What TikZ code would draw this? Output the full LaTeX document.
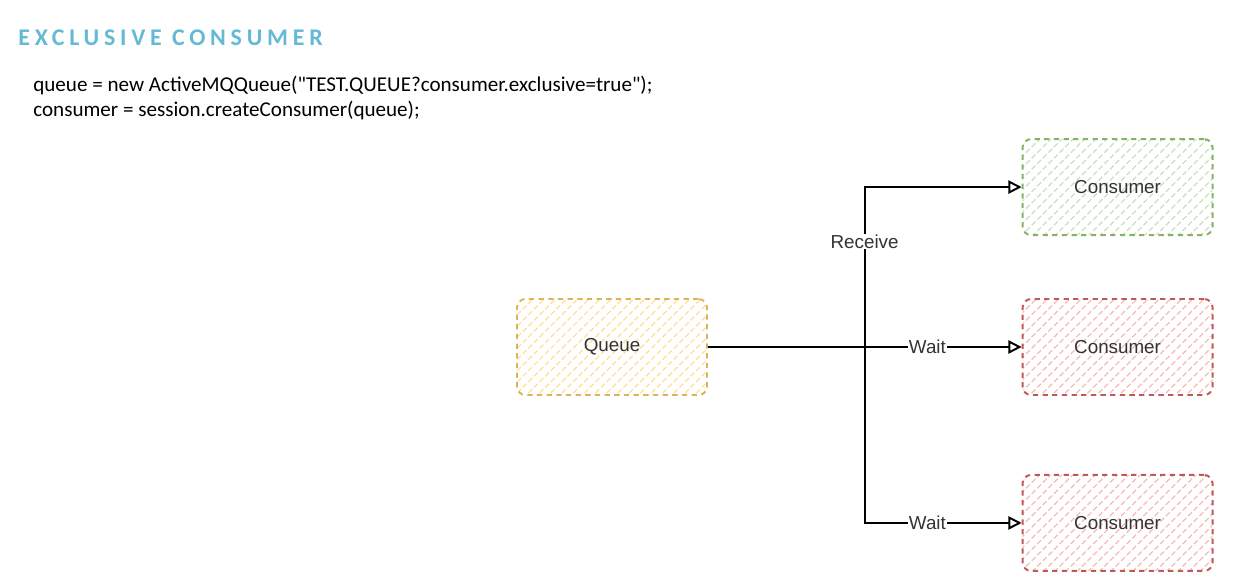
\documentclass[tikz,border=0pt]{standalone}
\usepackage{fontspec}
\setmainfont{Carlito}
\newfontfamily\drawfont{Liberation Sans}
\newfontfamily\titlefont[LetterSpace=20]{Carlito}
\usepackage{tikz}
\usetikzlibrary{positioning,arrows.meta,patterns.meta}

\definecolor{titleblue}{RGB}{100,186,212}
\definecolor{qborder}{RGB}{214,182,86}
\definecolor{qhatch}{RGB}{255,222,150}
\definecolor{gborder}{RGB}{130,179,102}
\definecolor{ghatch}{RGB}{200,225,185}
\definecolor{rborder}{RGB}{190,90,85}
\definecolor{rhatch}{RGB}{248,185,182}

\tikzset{
  sketchbox/.style={draw, dash pattern=on 3pt off 2.5pt, line width=1.1pt, rounded corners=0.17cm,
    minimum width=3.8cm, minimum height=1.92cm, font=\drawfont\fontsize{10.7}{12}\selectfont, text=black!80},
  queuebox/.style={sketchbox, draw=qborder, pattern={Lines[angle=45,distance=4.5pt,line width=0.7pt]}, pattern color=qhatch},
  okbox/.style={sketchbox, draw=gborder, pattern={Lines[angle=45,distance=4.5pt,line width=0.7pt]}, pattern color=ghatch},
  waitbox/.style={sketchbox, draw=rborder, pattern={Lines[angle=45,distance=4.5pt,line width=0.7pt]}, pattern color=rhatch},
  flow/.style={-{Triangle[open,length=7.5pt,width=7.5pt]}, line width=1.1pt},
  lbl/.style={fill=white, inner sep=0.5pt, font=\drawfont\fontsize{10.7}{12}\selectfont, text=black!80}
}

\begin{document}
\begin{tikzpicture}[node distance=1cm]
    \useasboundingbox (0,0) rectangle (24.84,-11.72);

    % Heading and code
    \node[anchor=west, inner sep=0pt, text=titleblue, font=\titlefont\bfseries\fontsize{13.6}{15}\selectfont] (title) at (0.36,-0.76) {EXCLUSIVE CONSUMER};
    \node[anchor=west, inner sep=0pt, font=\fontsize{12}{15}\selectfont] (code1) at (0.66,-1.70) {queue = new ActiveMQQueue(\textquotedbl TEST.QUEUE?consumer.exclusive=true\textquotedbl);};
    \node[anchor=west, inner sep=0pt, font=\fontsize{12}{15}\selectfont] (code2) at (0.66,-2.20) {consumer = session.createConsumer(queue);};

    % Queue
    \node[queuebox] (queue) at (12.24,-6.94) {Queue};

    % Consumers
    \node[waitbox, right=6.28cm of queue] (c2) {Consumer};
    \node[okbox, above=1.24cm of c2] (c1) {Consumer};
    \node[waitbox, below=1.56cm of c2] (c3) {Consumer};

    % Edges
    \coordinate[right=3.14cm of queue.east] (split);
    \draw[flow] (queue) -- (split) |- node[lbl, pos=0.33] {Receive} (c1);
    \draw[flow] (queue) -- (split) -- node[lbl, pos=0.4] {Wait} (c2);
    \draw[flow] (queue) -- (split) |- node[lbl, pos=0.7] {Wait} (c3);
\end{tikzpicture}
\end{document}
